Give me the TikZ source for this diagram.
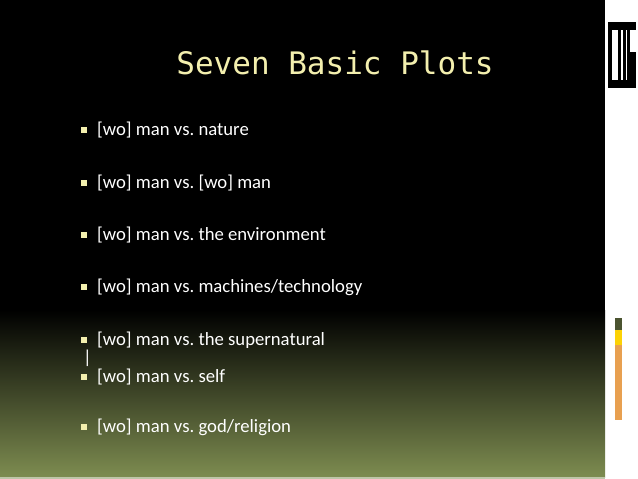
\documentclass[tikz,border=0pt]{standalone}
\usepackage{fontspec}
\setmainfont{Carlito}
\newfontfamily\titlefont{DejaVu Sans Mono}
\definecolor{olive}{HTML}{7D8C50}
\definecolor{ttl}{HTML}{F3EFAE}
\definecolor{orng}{HTML}{E8A050}
\tikzset{item/.style={anchor=west,text=white,font=\fontsize{18.7}{20}\selectfont,inner sep=0pt},
bul/.style={fill=ttl,minimum size=6pt,inner sep=0pt}}
\begin{document}
\frenchspacing
\begin{tikzpicture}[x=1pt,y=-1pt]
\useasboundingbox (0,0) rectangle (638,479);
\fill[white] (0,0) rectangle (638,479);
\fill[black] (0,0) rectangle (605,310);
\shade[top color=black,bottom color=olive] (0,310) rectangle (605,477);
\fill[olive!50!white] (0,477) rectangle (605,479);
% right decorations
\fill[black] (608,22) rectangle (636,88);
\fill[white] (612,30) rectangle (618,80);
\fill[white] (621,30) rectangle (623,80);
\fill[white] (626,30) rectangle (627,80);
\fill[white] (630,30) rectangle (636,52);
\fill[olive!60!black] (615,318) rectangle (622,330);
\fill[yellow!70!orange] (615,330) rectangle (622,345);
\fill[orng] (615,345) rectangle (622,420);
\node[font=\titlefont\fontsize{31}{34}\selectfont,text=ttl] (title) at (335,63) {Seven Basic Plots};
\foreach \y/\t [count=\i] in {130/{[wo] man vs. nature},183/{[wo] man vs. [wo] man},235/{[wo] man vs. the environment},287/{[wo] man vs. machines/technology},340/{[wo] man vs. the supernatural},377/{[wo] man vs. self},427/{[wo] man vs. god/religion}}{
  \node[bul] (b\i) at (84,\y) {};
  \node[item] (t\i) at (97,\y) {\t};
}
\node[item] (bar) at (83,358) {|};
\end{tikzpicture}
\end{document}
